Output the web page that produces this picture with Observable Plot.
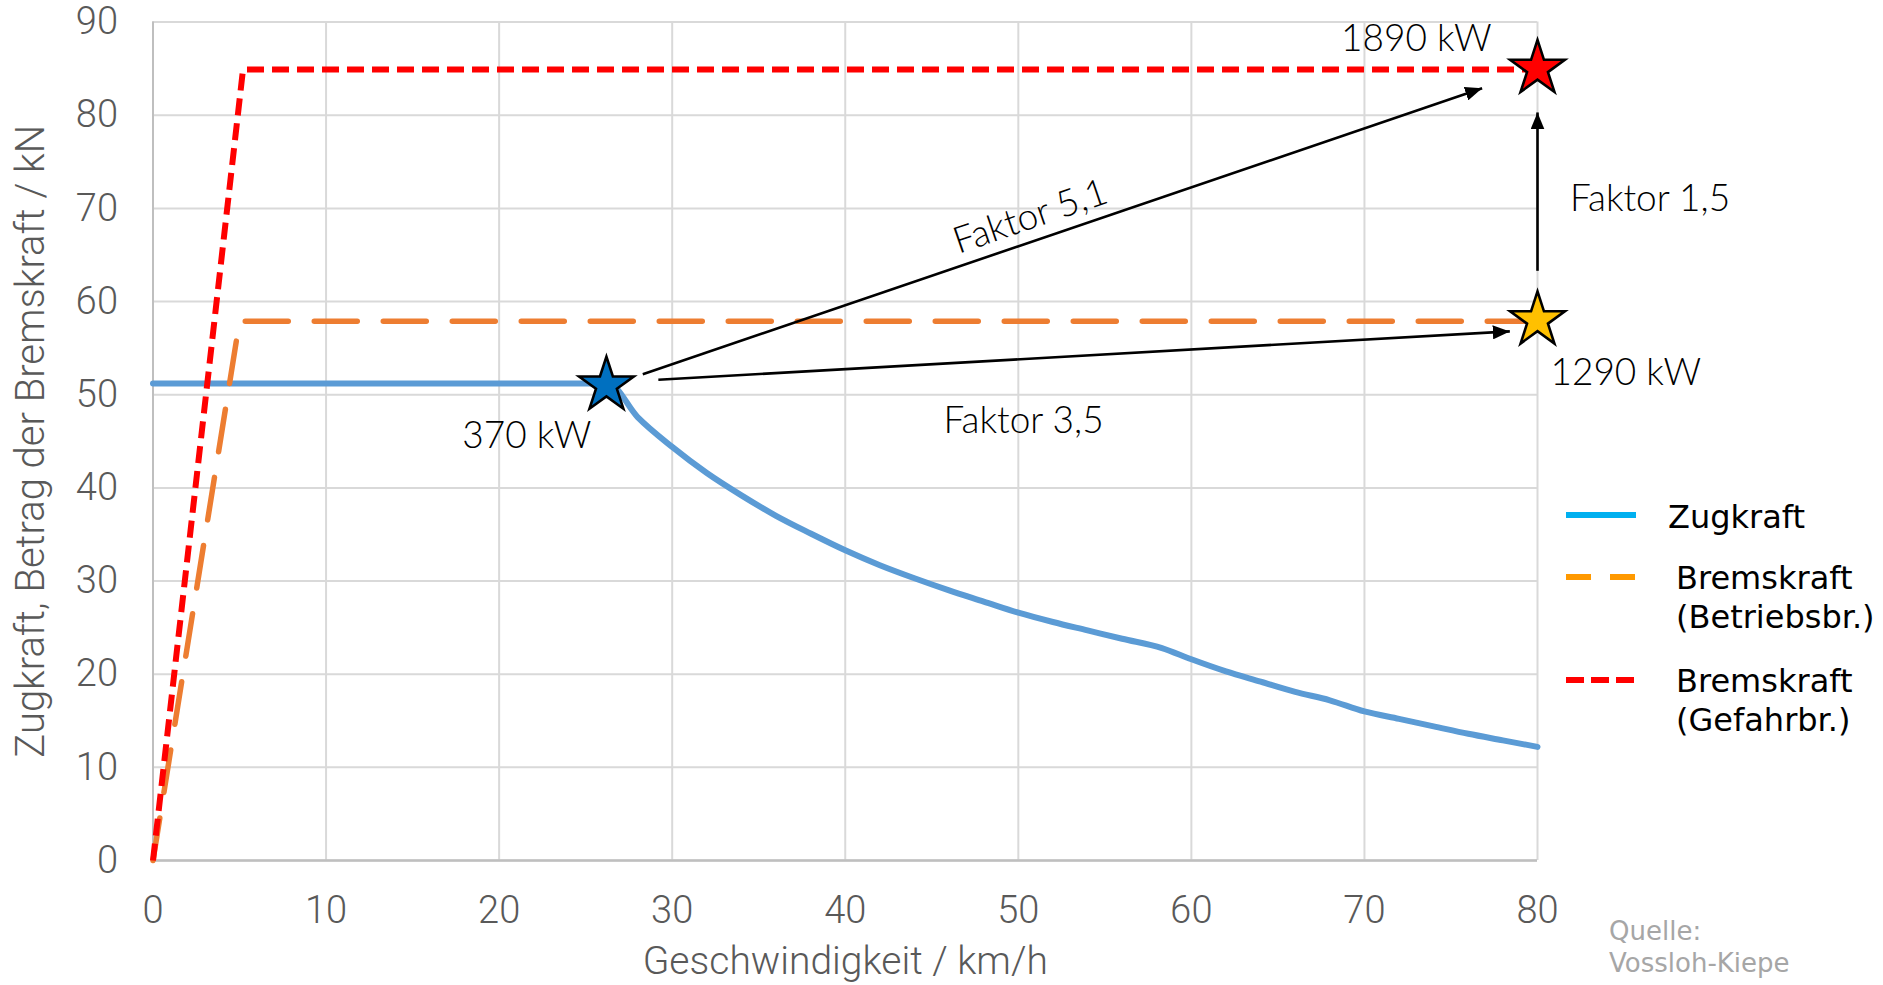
<!DOCTYPE html>
<html>
<head>
<meta charset="utf-8">
<script src="https://cdn.jsdelivr.net/npm/d3@7"></script>
<script src="https://cdn.jsdelivr.net/npm/@observablehq/plot@0.6"></script>
<style>
  html, body { margin: 0; padding: 0; background: #fff; }
  #wrap { position: relative; width: 1883px; height: 985px; overflow: hidden; }
  #wrap > svg.plotsvg { position: absolute; left: 0; top: 12px; overflow: visible; }
  #legend { position: absolute; left: 0; top: 0; pointer-events: none; }
</style>
</head>
<body>
<div id="wrap"></div>
<script>
// ---- data ----
const xTicks = [0, 10, 20, 30, 40, 50, 60, 70, 80];
const yTicks = [0, 10, 20, 30, 40, 50, 60, 70, 80, 90];

// Zugkraft (traction force) vs. speed
const zugX = [0, 26.3, 28, 30, 32, 34, 36, 38, 40, 42, 44, 46, 48, 50, 52, 54, 56, 58.3, 60, 62, 64, 66, 68, 70, 72, 74, 76, 78, 80];
const zugY = [51.2, 51.2, 47.6, 44.4, 41.6, 39.2, 37.0, 35.1, 33.3, 31.7, 30.3, 29.0, 27.8, 26.6, 25.6, 24.7, 23.8, 22.8, 21.6, 20.3, 19.2, 18.1, 17.2, 16.0, 15.2, 14.4, 13.6, 12.9, 12.2];

// Bremskraft (Betriebsbremse)
const betrX = [0, 5.0, 80];
const betrY = [0, 57.9, 57.9];

// Bremskraft (Gefahrbremse)
const gefX = [0, 5.2, 80];
const gefY = [0, 84.9, 84.9];

// stars
const starX = [26.2, 80, 80];
const starY = [51.0, 58.0, 85.0];
const starFill = ["#0070C0", "#FFC000", "#FF0000"];

// arrows
const arrX1 = [28.3, 29.2, 80];
const arrY1 = [52.2, 51.6, 63.3];
const arrX2 = [76.8, 78.4, 80];
const arrY2 = [82.9, 56.8, 80.3];

// annotations
const noteText = ["1890 kW", "1290 kW", "370 kW", "Faktor 5,1", "Faktor 3,5", "Faktor 1,5"];
const noteX = [73.0, 85.1, 21.6, 50.7, 50.3, 86.5];
const noteY = [88.2, 52.3, 45.6, 69.1, 47.2, 71.0];
const noteRot = [0, 0, 0, -19, 0, 0];

const xLabel = "Geschwindigkeit / km/h";
const yLabel = "Zugkraft, Betrag der Bremskraft / kN";

const legendLabels = [["Zugkraft"], ["Bremskraft", "(Betriebsbr.)"], ["Bremskraft", "(Gefahrbr.)"]];
const sourceLines = ["Quelle:", "Vossloh-Kiepe"];

// ---- tables ----
const zug = zugX.map((x, i) => ({x, y: zugY[i]}));
const betr = betrX.map((x, i) => ({x, y: betrY[i]}));
const gef = gefX.map((x, i) => ({x, y: gefY[i]}));
const stars = starX.map((x, i) => ({x, y: starY[i], fill: starFill[i]}));
const arrows = arrX1.map((x1, i) => ({x1, y1: arrY1[i], x2: arrX2[i], y2: arrY2[i]}));
const notes = noteText.map((t, i) => ({t, x: noteX[i], y: noteY[i], r: noteRot[i]}));

const gray = "#595959";
const tickFont = {fontSize: 38, fontWeight: 300, color: gray};

const chart = Plot.plot({
  className: "plotsvg",
  width: 1883,
  height: 973,
  marginLeft: 152.5,
  marginRight: 346,
  marginTop: 9.6,
  marginBottom: 125,
  style: {fontFamily: "Roboto, sans-serif", background: "transparent", overflow: "visible"},
  x: {domain: [0, 80]},
  y: {domain: [0, 90]},
  marks: [
    Plot.gridX(xTicks, {stroke: "#d9d9d9", strokeOpacity: 1, strokeWidth: 2}),
    Plot.gridY(yTicks, {stroke: "#d9d9d9", strokeOpacity: 1, strokeWidth: 2}),
    Plot.ruleY([0], {stroke: "#bfbfbf", strokeWidth: 2.5}),
    Plot.ruleX([0], {stroke: "#bfbfbf", strokeWidth: 2}),
    Plot.axisX(xTicks, {tickSize: 0, tickPadding: 36, label: null, ...tickFont}),
    Plot.axisY(yTicks, {tickSize: 0, tickPadding: 35, label: null, ...tickFont}),
    Plot.line(zug, {x: "x", y: "y", stroke: "#5B9BD5", strokeWidth: 6, curve: "monotone-x"}),
    Plot.line(betr, {x: "x", y: "y", stroke: "#ED7D31", strokeWidth: 5.5, strokeDasharray: "43,26", strokeLinecap: "round", strokeLinejoin: "round"}),
    Plot.line(gef, {x: "x", y: "y", stroke: "#FF0000", strokeWidth: 6, strokeDasharray: "17,8", strokeLinecap: "butt", strokeLinejoin: "round"}),
    Plot.link(arrows, {x1: "x1", y1: "y1", x2: "x2", y2: "y2", stroke: "#000", strokeWidth: 2.6}),
    Plot.dot(stars, {x: "x", y: "y", symbol: "star", r: 17.2, fill: d => d.fill, stroke: "#000", strokeWidth: 2.6}),
    Plot.text(notes, {x: "x", y: "y", text: "t", rotate: "r", fontSize: 37, fontWeight: 300, fontFamily: "Lato, sans-serif", fill: "#000", lineAnchor: "middle"}),
    Plot.text([xLabel], {text: d => d, frameAnchor: "bottom", textAnchor: "middle", dy: 101, lineAnchor: "middle", fontSize: 39, fontWeight: 300, fill: gray}),
    Plot.text([yLabel], {text: d => d, frameAnchor: "left", textAnchor: "middle", dx: -122, rotate: -90, lineAnchor: "middle", fontSize: 40, fontWeight: 300, fill: gray})
  ]
});

// filled arrowheads for the link mark
const ns = "http://www.w3.org/2000/svg";
const defs = document.createElementNS(ns, "defs");
const marker = document.createElementNS(ns, "marker");
marker.setAttribute("id", "ahead");
marker.setAttribute("viewBox", "0 0 17 14");
marker.setAttribute("refX", "17");
marker.setAttribute("refY", "7");
marker.setAttribute("markerWidth", "17");
marker.setAttribute("markerHeight", "14");
marker.setAttribute("markerUnits", "userSpaceOnUse");
marker.setAttribute("orient", "auto");
const mp = document.createElementNS(ns, "path");
mp.setAttribute("d", "M0,0L17,7L0,14Z");
mp.setAttribute("fill", "#000");
marker.appendChild(mp);
defs.appendChild(marker);
chart.insertBefore(defs, chart.firstChild);
chart.querySelectorAll('g[aria-label="link"] path').forEach(p => p.setAttribute("marker-end", "url(#ahead)"));

document.getElementById("wrap").appendChild(chart);

// legend (outside the plot frame, right side)
const lg = d3.select("#wrap").append("svg").attr("id", "legend").attr("width", 1883).attr("height", 985);
const samples = [
  {y: 515, stroke: "#00B0F0", dash: null},
  {y: 577, stroke: "#FF9900", dash: "25,19"},
  {y: 680, stroke: "#FF0000", dash: "18,7"}
];
const textPos = [{x: 1668, y: 528}, {x: 1676, y: 589}, {x: 1676, y: 692}];
samples.forEach((s, i) => {
  lg.append("line").attr("x1", 1566).attr("x2", 1636).attr("y1", s.y).attr("y2", s.y)
    .attr("stroke", s.stroke).attr("stroke-width", 6).attr("stroke-dasharray", s.dash);
  legendLabels[i].forEach((t, j) => {
    lg.append("text").attr("x", textPos[i].x).attr("y", textPos[i].y + j * 39)
      .attr("font-family", "DejaVu Sans, sans-serif").attr("font-size", 32).attr("fill", "#000").text(t);
  });
});
sourceLines.forEach((t, j) => {
  lg.append("text").attr("x", 1609).attr("y", 940 + j * 32)
    .attr("font-family", "DejaVu Sans, sans-serif").attr("font-size", 26).attr("fill", "#A6A6A6").text(t);
});
</script>
</body>
</html>
